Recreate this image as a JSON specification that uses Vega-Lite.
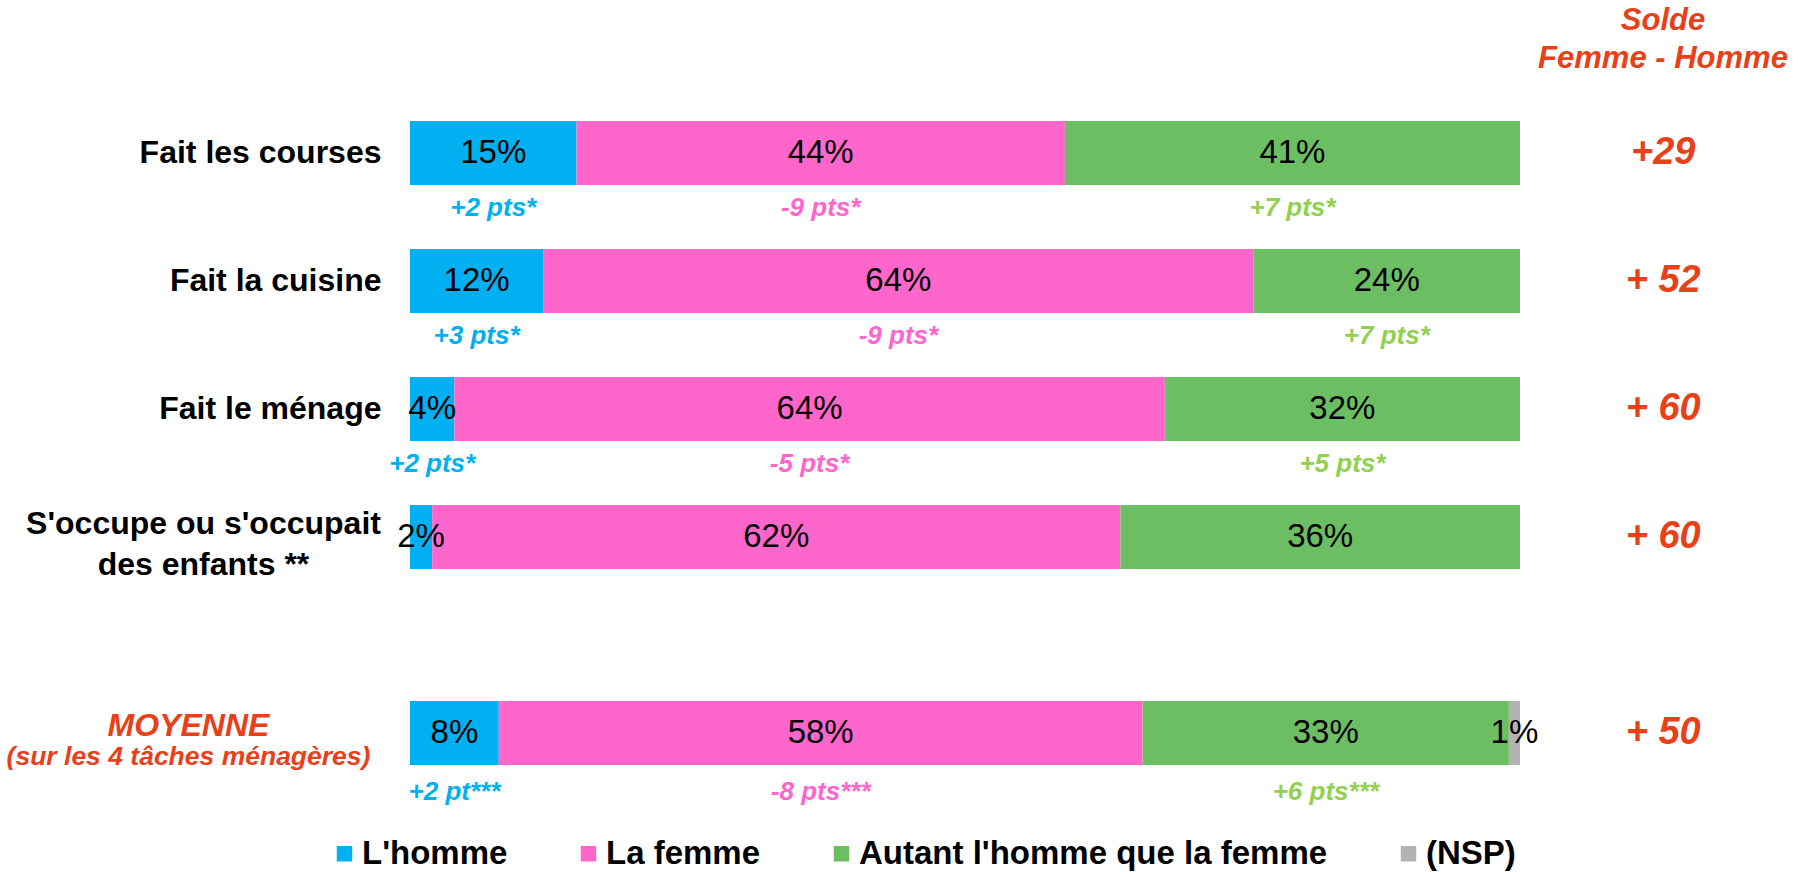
{
  "$schema": "https://vega.github.io/schema/vega-lite/v6.json",
  "background": "white",
  "padding": {"left": 6, "top": 5, "right": 5, "bottom": 4},
  "config": {
    "view": {"stroke": null},
    "font": "Liberation Sans",
    "concat": {"spacing": 64}
  },
  "datasets": {
    "rows": [
      {"task": "Fait les courses", "resp": "L'homme", "order": 1, "pct": 15, "delta": "+2 pts*"},
      {"task": "Fait les courses", "resp": "La femme", "order": 2, "pct": 44, "delta": "-9 pts*"},
      {"task": "Fait les courses", "resp": "Autant l'homme que la femme", "order": 3, "pct": 41, "delta": "+7 pts*"},
      {"task": "Fait la cuisine", "resp": "L'homme", "order": 1, "pct": 12, "delta": "+3 pts*"},
      {"task": "Fait la cuisine", "resp": "La femme", "order": 2, "pct": 64, "delta": "-9 pts*"},
      {"task": "Fait la cuisine", "resp": "Autant l'homme que la femme", "order": 3, "pct": 24, "delta": "+7 pts*"},
      {"task": "Fait le ménage", "resp": "L'homme", "order": 1, "pct": 4, "delta": "+2 pts*"},
      {"task": "Fait le ménage", "resp": "La femme", "order": 2, "pct": 64, "delta": "-5 pts*"},
      {"task": "Fait le ménage", "resp": "Autant l'homme que la femme", "order": 3, "pct": 32, "delta": "+5 pts*"},
      {"task": "S'occupe ou s'occupait des enfants **", "resp": "L'homme", "order": 1, "pct": 2, "delta": ""},
      {"task": "S'occupe ou s'occupait des enfants **", "resp": "La femme", "order": 2, "pct": 62, "delta": ""},
      {"task": "S'occupe ou s'occupait des enfants **", "resp": "Autant l'homme que la femme", "order": 3, "pct": 36, "delta": ""},
      {"task": "MOYENNE", "resp": "L'homme", "order": 1, "pct": 8, "delta": "+2 pt***"},
      {"task": "MOYENNE", "resp": "La femme", "order": 2, "pct": 58, "delta": "-8 pts***"},
      {"task": "MOYENNE", "resp": "Autant l'homme que la femme", "order": 3, "pct": 33, "delta": "+6 pts***"},
      {"task": "MOYENNE", "resp": "(NSP)", "order": 4, "pct": 1, "delta": ""}
    ],
    "solde": [
      {"task": "Fait les courses", "solde": "+29"},
      {"task": "Fait la cuisine", "solde": "+ 52"},
      {"task": "Fait le ménage", "solde": "+ 60"},
      {"task": "S'occupe ou s'occupait des enfants **", "solde": "+ 60"},
      {"task": "MOYENNE", "solde": "+ 50"}
    ]
  },
  "resolve": {"scale": {"x": "shared", "y": "independent", "color": "shared"}, "legend": {"color": "shared"}},
  "vconcat": [
    {
      "width": 1110,
      "height": 512,
      "title": {
        "text": ["Solde", "Femme - Homme"],
        "anchor": "end",
        "align": "center",
        "frame": "group",
        "dx": 143,
        "offset": 14,
        "fontSize": 31,
        "fontStyle": "italic",
        "fontWeight": "bold",
        "color": "#E8411A",
        "lineHeight": 38
      },
      "encoding": {
        "y": {
          "field": "task",
          "type": "nominal",
          "sort": ["Fait les courses", "Fait la cuisine", "Fait le ménage", "S'occupe ou s'occupait des enfants **"],
          "scale": {"paddingInner": 0.5, "paddingOuter": 0.25},
          "axis": {
            "title": null,
            "domain": false,
            "ticks": false,
            "labelAlign": {"condition": {"test": "indexof(datum.value, 'enfants') >= 0", "value": "center"}, "value": "right"},
            "labelPadding": {"condition": {"test": "indexof(datum.value, 'enfants') >= 0", "value": 207}, "value": 29},
            "labelOffset": {"condition": {"test": "indexof(datum.value, 'enfants') >= 0", "value": -13}, "value": 0},
            "labelFontSize": 32,
            "labelFontWeight": "bold",
            "labelColor": "#000000",
            "labelLimit": 0,
            "labelLineHeight": 41,
            "labelExpr": "indexof(datum.value, 'enfants') >= 0 ? [slice(datum.value, 0, 22), slice(datum.value, 23)] : datum.value"
          }
        }
      },
      "layer": [
        {
          "data": {"name": "rows"},
          "transform": [
            {"filter": "datum.task != 'MOYENNE'"},
            {"stack": "pct", "groupby": ["task"], "sort": [{"field": "order", "order": "ascending"}], "as": ["x0", "x1"]},
            {"calculate": "(datum.x0 + datum.x1) / 2", "as": "xm"},
            {"calculate": "datum.pct + '%'", "as": "lab"}
          ],
          "layer": [
            {
              "mark": {"type": "bar"},
              "encoding": {
                "x": {"field": "x0", "type": "quantitative", "scale": {"domain": [0, 100], "nice": false, "zero": false}, "axis": null},
                "x2": {"field": "x1"},
                "color": {
                  "field": "resp",
                  "type": "nominal",
                  "scale": {
                    "domain": ["L'homme", "La femme", "Autant l'homme que la femme", "(NSP)"],
                    "range": ["#00B0F0", "#FF66CC", "#6BBF62", "#B3B3B3"]
                  },
                  "legend": {
                    "title": null,
                    "orient": "none",
                    "legendX": -82,
                    "legendY": 748,
                    "direction": "horizontal",
                    "symbolType": "square",
                    "symbolSize": 240,
                    "symbolStrokeWidth": 0,
                    "labelFontSize": 33,
                    "labelFontWeight": "bold",
                    "labelColor": "#000000",
                    "labelLimit": 0,
                    "labelOffset": 1,
                    "columnPadding": 64
                  }
                }
              }
            },
            {
              "mark": {"type": "text", "fontSize": 33, "color": "#000000", "baseline": "middle", "align": "center"},
              "encoding": {
                "x": {"field": "xm", "type": "quantitative"},
                "text": {"field": "lab"}
              }
            },
            {
              "mark": {"type": "text", "fontSize": 26, "fontStyle": "italic", "fontWeight": "bold", "baseline": "middle", "align": "center", "dy": 55},
              "encoding": {
                "x": {"field": "xm", "type": "quantitative"},
                "text": {"field": "delta"},
                "color": {
                  "condition": [
                    {"test": "datum.order == 1", "value": "#00B0F0"},
                    {"test": "datum.order == 2", "value": "#FF66CC"}
                  ],
                  "value": "#92D050"
                }
              }
            }
          ]
        },
        {
          "data": {"name": "solde"},
          "transform": [{"filter": "datum.task != 'MOYENNE'"}],
          "mark": {"type": "text", "fontSize": 38, "fontStyle": "italic", "fontWeight": "bold", "color": "#E8411A", "baseline": "middle", "align": "center"},
          "encoding": {
            "x": {"datum": 112.9, "type": "quantitative"},
            "text": {"field": "solde"}
          }
        }
      ]
    },
    {
      "width": 1110,
      "height": 128,
      "encoding": {
        "y": {
          "field": "task",
          "type": "nominal",
          "scale": {"paddingInner": 0.5, "paddingOuter": 0.25},
          "axis": {
            "title": "MOYENNE",
            "titleAngle": 0,
            "titleAlign": "center",
            "titleBaseline": "middle",
            "titleX": -222,
            "titleY": 56,
            "titleFontSize": 32,
            "titleFontStyle": "italic",
            "titleFontWeight": "bold",
            "titleColor": "#E8411A",
            "domain": false,
            "ticks": false,
            "labelAlign": "center",
            "labelPadding": 222,
            "labelOffset": 24,
            "labelFontSize": 26.5,
            "labelFontStyle": "italic",
            "labelFontWeight": "bold",
            "labelColor": "#E8411A",
            "labelLimit": 0,
            "labelExpr": "'(sur les 4 tâches ménagères)'"
          }
        }
      },
      "layer": [
        {
          "data": {"name": "rows"},
          "transform": [
            {"filter": "datum.task == 'MOYENNE'"},
            {"stack": "pct", "groupby": ["task"], "sort": [{"field": "order", "order": "ascending"}], "as": ["x0", "x1"]},
            {"calculate": "(datum.x0 + datum.x1) / 2", "as": "xm"},
            {"calculate": "datum.pct + '%'", "as": "lab"}
          ],
          "layer": [
            {
              "mark": {"type": "bar"},
              "encoding": {
                "x": {"field": "x0", "type": "quantitative", "scale": {"domain": [0, 100], "nice": false, "zero": false}, "axis": null},
                "x2": {"field": "x1"},
                "color": {"field": "resp", "type": "nominal"}
              }
            },
            {
              "mark": {"type": "text", "fontSize": 33, "color": "#000000", "baseline": "middle", "align": "center"},
              "encoding": {
                "x": {"field": "xm", "type": "quantitative"},
                "text": {"field": "lab"}
              }
            },
            {
              "mark": {"type": "text", "fontSize": 26, "fontStyle": "italic", "fontWeight": "bold", "baseline": "middle", "align": "center", "dy": 59},
              "encoding": {
                "x": {"field": "xm", "type": "quantitative"},
                "text": {"field": "delta"},
                "color": {
                  "condition": [
                    {"test": "datum.order == 1", "value": "#00B0F0"},
                    {"test": "datum.order == 2", "value": "#FF66CC"}
                  ],
                  "value": "#92D050"
                }
              }
            }
          ]
        },
        {
          "data": {"name": "solde"},
          "transform": [{"filter": "datum.task == 'MOYENNE'"}],
          "mark": {"type": "text", "fontSize": 38, "fontStyle": "italic", "fontWeight": "bold", "color": "#E8411A", "baseline": "middle", "align": "center"},
          "encoding": {
            "x": {"datum": 112.9, "type": "quantitative"},
            "text": {"field": "solde"}
          }
        }
      ]
    }
  ]
}
